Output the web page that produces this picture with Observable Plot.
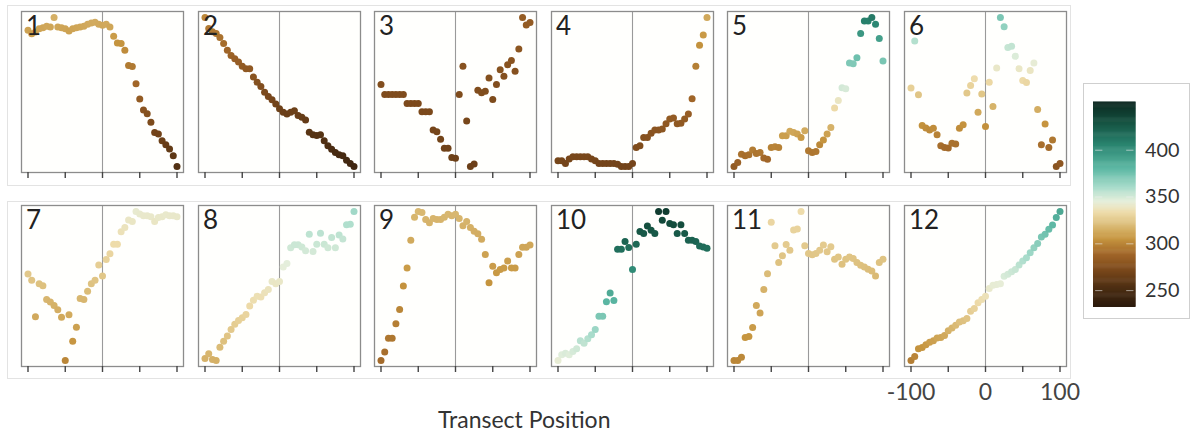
<!DOCTYPE html>
<html><head><meta charset="utf-8">
<script src="https://cdn.jsdelivr.net/npm/d3@7"></script>
<script src="https://cdn.jsdelivr.net/npm/@observablehq/plot@0.6"></script>
<style>
body{margin:0;background:#fff;width:1195px;height:436px;position:relative;overflow:hidden;font-family:Lato,sans-serif;}
.box{position:absolute;border:1px solid #e3e3e3;box-sizing:border-box;}
.panel{position:absolute;}
.panel svg{overflow:visible;display:block;}
#xlabel{position:absolute;left:438px;top:405px;font-size:23px;color:#333;font-family:Lato,sans-serif;white-space:nowrap;}
#legendbox{position:absolute;left:1083px;top:83px;width:107px;height:236px;border:1px solid #cfcfcf;box-sizing:border-box;}
</style></head><body>
<div class="box" style="left:7px;top:5px;width:1064px;height:181px"></div>
<div class="box" style="left:7px;top:201px;width:1064px;height:178px"></div>
<div id="legendbox"></div>
<div id="panels"></div>
<div id="xlabel">Transect Position</div>
<script>
// ---- data ----
const positions = [-100,-95,-90,-85,-80,-75,-70,-65,-60,-55,-50,-45,-40,-35,-30,-25,-20,-15,-10,-5,0,5,10,15,20,25,30,35,40,45,50,55,60,65,70,75,80,85,90,95,100];
const panelLabels = ["1","2","3","4","5","6","7","8","9","10","11","12"];
const xTicks = [-100,-50,0,50,100];
const xTickLabels = ["-100","","0","","100"];
const legendTicks = [250,300,350,400];

const v1 = [309.9,308.5,309.2,310.5,310.9,311.5,311.2,315,311.2,310.9,310.5,309.6,310.5,310.9,311.2,311.5,312.3,312.8,313.1,312.3,311.9,312.3,311.2,307.4,304.7,304.5,301.8,295.7,295.3,288.3,282.2,277.8,276.2,272.8,268.7,268.1,265.4,263.8,262.0,259.3,255];
const v2 = [300,295.9,294.7,294.1,292.6,290.4,287.9,286.0,284.8,283.6,282.0,281.1,281.1,278.0,276.1,274.5,272.4,270.8,269.6,268.1,266.3,265.0,264.4,265.0,265.6,263.8,263.2,262.2,257.6,256.7,256.4,256.7,254.5,252.7,251.4,250.2,249.3,249.0,247.3,246.1,245];
const v3 = [274.9,273.7,273.7,273.7,273.7,273.7,273.7,272.6,272.6,272.6,272.6,271.6,271.6,271.6,269.4,269.2,268.3,267.2,267.2,266.1,266.0,273.7,277.1,270.5,265,265.3,274.2,273.9,274.1,275.7,273.1,274.9,276.7,275.9,277.3,277.8,276.5,279.2,283,282.1,282.4];
const v4 = [269.7,269.7,268.9,270.2,270.9,270.9,270.9,270.9,270.9,270.2,269.7,268.9,268.9,268.9,268.9,268.9,268.7,268,268,268,268.9,273.6,274.1,276.6,276.6,277.8,278.8,278.8,279.1,280.6,282.0,282.3,280.6,280.8,282.0,283.5,288.0,297.6,303.8,306.8,312];
const v5 = [282,285.5,292.6,291.2,292.1,296.1,293.2,294.1,289.2,288.3,298.4,299.0,298.4,308.5,308.5,312.2,311.3,309.9,307.0,312.8,295.5,294.1,294.9,300.7,304.7,309.9,315.6,332.3,338.7,349.6,348.7,370.9,370.3,375.5,396.2,407.1,407.1,410,404.2,391.9,372.6];
const v6 = [327.6,357.2,323.2,303.8,302.3,301.0,302.1,298.1,291.1,290.0,289.6,292.6,292.2,302.1,304.4,324.3,329.1,333.3,312.2,323.8,303.3,331.2,315.8,340.1,372,366.1,353.0,353.8,347.5,339.7,332.3,331.0,338.6,343.3,313.9,291.7,304.8,290.0,294.7,278,279.9];
const v7 = [324.4,322.6,312.3,321.6,321.1,317.2,316.5,315.5,314.3,312.2,300,312.9,305.4,309.4,317.5,317.2,319.5,321.6,322.6,326.9,323.8,328.5,330.1,332.8,332.8,336.3,337.5,339.6,339.2,342,341.3,340.8,340.8,340.5,339.2,340.3,340.5,341.1,340.8,340.8,340.5];
const v8 = [315.6,317.1,315.3,315,319.2,321.1,322.7,324.8,326.4,327.6,328.5,329.5,332.2,334.0,335.3,335.0,336.4,337.4,339.9,339.2,339.9,344.5,345.6,350.6,351.5,351.5,350.8,349.6,354.8,349.4,351.7,355.1,351.7,350.6,353.8,350.6,354.6,353.3,357.8,358.0,362];
const v9 = [290,291.6,294.2,294.2,296.9,299.6,304.0,307.4,312.6,316.9,318,317.8,316.5,315.9,316.7,316.5,316.5,316.9,317.5,317.2,317.5,316.7,315.3,316.1,315.0,314.3,313.8,312.8,309.9,304.6,307.7,306.5,307.1,307.4,308.7,307.4,307.4,309.9,311.3,311.3,311.7];
const v10 = [343,346.7,347.8,346.7,348.9,350.6,355.9,354.3,357.2,359.8,363.1,371.8,371.8,381.2,387.0,382.0,415.4,415.4,420.4,416.5,402.3,418.6,426.9,425.6,430.6,427.8,425.6,440,434.3,440,432.2,431.3,425.6,431.3,425.6,421.3,421.3,420.4,417.6,416.9,416.0];
const v11 = [300,300,300.7,305.1,305.3,307.3,312.2,310.5,315.7,319.2,330.6,325.4,321.7,323.2,325.7,324.4,328.9,329.1,333,325.4,323.7,323.4,323.7,324.4,325.6,324.1,325.2,322.4,322.9,321.3,322.4,322.9,322.6,321.7,321.1,320.7,320.2,319.8,318.7,321.7,322.4];
const v12 = [297,299.5,304.2,305.0,306.6,308.2,309.1,310.7,311.1,312.3,315.2,316.8,318.5,320.5,321.3,322.6,327.1,328.7,332.2,334.2,336.3,341.0,343.0,343.4,343.8,348.5,349.6,351.2,352.6,355.3,357.7,359.8,362.8,365.9,368.4,372.5,374.1,377.2,379.8,384.3,388];
const panelValues = [v1,v2,v3,v4,v5,v6,v7,v8,v9,v10,v11,v12];

// ---- colour scale ----
const colorDomain = [232,252,270,288,305,320,333,345,360,380,405,430,451];
const colorRange = ["#2b1a0c","#4b2d12","#77461a","#a06528","#c6953f","#dcbe7a","#eedcab","#e6efdc","#a8dccb","#5db8a4","#2a8570","#14503f","#0c2720"];
const colorScale = {type:"linear", domain: colorDomain, range: colorRange};

// ---- layout ----
const frameW = 162, frameH = 161;
const rowTops = [11, 205];
const colStep = 176.6, colLeft = 21;

const host = document.getElementById("panels");
panelValues.forEach((vals, i) => {
  const row = Math.floor(i / 6), col = i % 6;
  const data = positions.map((x, j) => ({x, v: vals[j]}));
  const isLast = i === 11;
  const plot = Plot.plot({
    width: frameW + 2, height: frameH + 2 + 40,
    marginTop: 1, marginLeft: 1, marginRight: 1, marginBottom: 41,
    style: {fontFamily: "Lato, sans-serif", background: "transparent", overflow: "visible"},
    x: {domain: [-100, 100], inset: 6.5, label: null},
    y: {domain: d3.extent(vals), inset: 6, axis: null},
    color: colorScale,
    marks: [
      Plot.frame({fill: "#fffffd"}),
      Plot.ruleX([0], {stroke: "#9a9a9a", strokeWidth: 1.1}),
      Plot.dot(data, {x: "x", y: "v", fill: "v", r: 3.5}),
      Plot.frame({stroke: "#8c8c8c", strokeWidth: 1.3}),
      Plot.axisX({ticks: xTicks, tickSize: 6, tickPadding: 11, strokeWidth: 1.4, color: "#444", fontSize: 23,
        tickFormat: isLast ? (d => xTickLabels[xTicks.indexOf(d)]) : (() => "")}),
      Plot.text([panelLabels[i]], {frameAnchor: "top-left", text: d => d, dx: 4.5, dy: 5.5, fontSize: 26, fill: "#222", textAnchor: "start", lineAnchor: "top"})
    ]
  });
  const div = document.createElement("div");
  div.className = "panel";
  div.style.left = (colLeft + colStep * col - 1) + "px";
  div.style.top = (rowTops[row] - 1) + "px";
  div.appendChild(plot);
  host.appendChild(div);
});

// ---- legend ----
const legendBands = d3.range(232, 451, 1);
const legend = Plot.plot({
  width: 43 + 60, height: 207,
  marginTop: 0, marginBottom: 0, marginLeft: 0, marginRight: 60,
  style: {fontFamily: "Lato, sans-serif", background: "transparent", overflow: "visible"},
  x: {domain: [0, 1], axis: null},
  y: {domain: [232, 451], label: null},
  color: colorScale,
  marks: [
    Plot.rect(legendBands, {x1: () => 0, x2: () => 1, y1: d => d, y2: d => d + 1.6, fill: d => d + 0.5}),
    Plot.ruleY(legendTicks, {y: d => d, x1: () => 0.05, x2: () => 0.22, stroke: "#eee", strokeOpacity: 0.6}),
    Plot.ruleY(legendTicks, {y: d => d, x1: () => 0.78, x2: () => 0.95, stroke: "#eee", strokeOpacity: 0.6}),
    Plot.axisY({anchor: "right", ticks: legendTicks, tickSize: 0, tickPadding: 9, fontSize: 20, color: "#333"})
  ]
});
const ldiv = document.createElement("div");
ldiv.className = "panel";
ldiv.style.left = "1093px";
ldiv.style.top = "102px";
ldiv.appendChild(legend);
document.body.appendChild(ldiv);
</script>
</body></html>
